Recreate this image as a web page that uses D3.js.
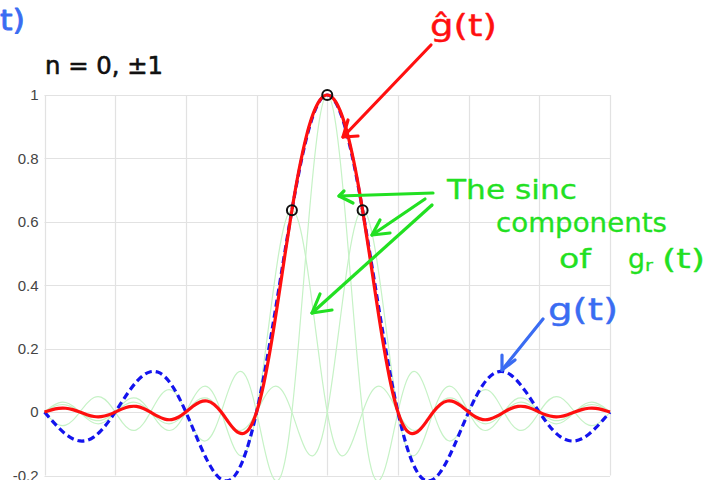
<!DOCTYPE html>
<html>
<head>
<meta charset="utf-8">
<script src="https://cdn.jsdelivr.net/npm/d3@7"></script>
<style>
  html, body { margin: 0; padding: 0; background: #ffffff; }
  svg { display: block; }
</style>
</head>
<body>
<svg id="chart" width="717" height="480"></svg>
<script>
// ---- data ----
const tValues = [-4,-3.9,-3.8,-3.7,-3.6,-3.5,-3.4,-3.3,-3.2,-3.1,-3,-2.9,-2.8,-2.7,-2.6,-2.5,-2.4,-2.3,-2.2,-2.1,-2,-1.9,-1.8,-1.7,-1.6,-1.5,-1.4,-1.3,-1.2,-1.1,-1,-0.9,-0.8,-0.7,-0.6,-0.5,-0.4,-0.3,-0.2,-0.1,0,0.1,0.2,0.3,0.4,0.5,0.6,0.7,0.8,0.9,1,1.1,1.2,1.3,1.4,1.5,1.6,1.7,1.8,1.9,2,2.1,2.2,2.3,2.4,2.5,2.6,2.7,2.8,2.9,3,3.1,3.2,3.3,3.4,3.5,3.6,3.7,3.8,3.9,4];

// g(t): original signal (blue dashed)
const gValues = [0,-0.02522,-0.04924,-0.06960,-0.08409,-0.09095,-0.08904,-0.07804,-0.05847,-0.03173,0,0.03392,0.06682,0.09538,0.11643,0.12732,0.12614,0.11196,0.08504,0.04684,0,-0.05177,-0.10394,-0.15148,-0.18921,-0.21221,-0.21624,-0.19809,-0.15592,-0.08942,0,0.10929,0.23387,0.36788,0.50455,0.63662,0.75683,0.85839,0.93549,0.98363,
  1,0.98363,0.93549,0.85839,0.75683,0.63662,0.50455,0.36788,0.23387,0.10929,0,-0.08942,-0.15592,-0.19809,-0.21624,-0.21221,-0.18921,-0.15148,-0.10394,-0.05177,0,0.04684,0.08504,0.11196,0.12614,0.12732,0.11643,0.09538,0.06682,0.03392,0,-0.03173,-0.05847,-0.07804,-0.08904,-0.09095,-0.08409,-0.06960,-0.04924,-0.02522,0];

// g-hat(t): reconstruction from n = 0, ±1 (red)
const gHatValues = [0,0.00705,0.01178,0.01214,0.00775,0,-0.00830,-0.01391,-0.01443,-0.00928,0,0.01007,0.01704,0.01785,0.01159,0,-0.01291,-0.02214,-0.02357,-0.01558,0,0.01812,0.03193,0.03506,0.02403,0,-0.03070,-0.05755,-0.06820,-0.05144,0,0.08749,0.20612,0.34587,0.49377,0.63662,0.76325,0.86591,0.94038,0.98512,
  1,0.98512,0.94038,0.86591,0.76325,0.63662,0.49377,0.34587,0.20612,0.08749,0,-0.05144,-0.06820,-0.05755,-0.03070,0,0.02403,0.03506,0.03193,0.01812,0,-0.01558,-0.02357,-0.02214,-0.01291,0,0.01159,0.01785,0.01704,0.01007,0,-0.00928,-0.01443,-0.01391,-0.00830,0,0.00775,0.01214,0.01178,0.00705,0];

// sinc components (green)
const compN0 = [0,-0.02399,-0.03983,-0.04091,-0.02599,0,0.02751,0.04587,0.04730,0.03018,0,-0.03226,-0.05406,-0.05606,-0.03598,0,0.03898,0.06581,0.06880,0.04455,0,-0.04924,-0.08409,-0.08904,-0.05847,0,0.06682,0.11643,0.12614,0.08504,0,-0.10394,-0.18921,-0.21624,-0.15592,0,0.23387,0.50455,0.75683,0.93549,
  1,0.93549,0.75683,0.50455,0.23387,0,-0.15592,-0.21624,-0.18921,-0.10394,0,0.08504,0.12614,0.11643,0.06682,0,-0.05847,-0.08904,-0.08409,-0.04924,0,0.04455,0.06880,0.06581,0.03898,0,-0.03598,-0.05606,-0.05406,-0.03226,0,0.03018,0.04730,0.04587,0.02751,0,-0.02599,-0.04091,-0.03983,-0.02399,0];

const compP1 = [0,0.01353,0.02241,0.02294,0.01453,0,-0.01527,-0.02536,-0.02604,-0.01655,0,0.01751,0.02920,0.03011,0.01921,0,-0.02054,-0.03442,-0.03569,-0.02291,0,0.02482,0.04190,0.04380,0.02836,0,-0.03135,-0.05353,-0.05668,-0.03722,0,0.04254,0.07412,0.08030,0.05414,0,-0.06617,-0.12045,-0.13766,-0.09926,0,0.14889,0.32121,0.48181,0.59555,0.63662,
  0.59555,0.48181,0.32121,0.14889,0,-0.09926,-0.13766,-0.12045,-0.06617,0,0.05414,0.08030,0.07412,0.04254,0,-0.03722,-0.05668,-0.05353,-0.03135,0,0.02836,0.04380,0.04190,0.02482,0,-0.02291,-0.03569,-0.03442,-0.02054,0,0.01921,0.03011,0.02920,0.01751,0];

const compM1 = [0,0.01751,0.02920,0.03011,0.01921,0,-0.02054,-0.03442,-0.03569,-0.02291,0,0.02482,0.04190,0.04380,0.02836,0,-0.03135,-0.05353,-0.05668,-0.03722,0,0.04254,0.07412,0.08030,0.05414,0,-0.06617,-0.12045,-0.13766,-0.09926,0,0.14889,0.32121,0.48181,0.59555,0.63662,
  0.59555,0.48181,0.32121,0.14889,0,-0.09926,-0.13766,-0.12045,-0.06617,0,0.05414,0.08030,0.07412,0.04254,0,-0.03722,-0.05668,-0.05353,-0.03135,0,0.02836,0.04380,0.04190,0.02482,0,-0.02291,-0.03569,-0.03442,-0.02054,0,0.01921,0.03011,0.02920,0.01751,0,-0.01655,-0.02604,-0.02536,-0.01527,0,0.01453,0.02294,0.02241,0.01353,0];

// samples n = 0, ±1
const sampleT = [-0.5, 0, 0.5];
const sampleG = [0.63662, 1, 0.63662];

const xTicks = [-4,-3,-2,-1,0,1,2,3,4];
const yTicks = [-0.2,0,0.2,0.4,0.6,0.8,1];
const yTickLabels = ["-0.2","0","0.2","0.4","0.6","0.8","1"];

// ---- chart ----
const svg = d3.select("#chart");
const x = d3.scaleLinear().domain([-4, 4]).range([44.5, 610]);
const y = d3.scaleLinear().domain([-0.2, 1]).range([475.5, 95]);

// grid
const grid = svg.append("g");
grid.selectAll("line.v").data(xTicks).join("line")
  .attr("x1", d => Math.round(x(d)) + 0.5).attr("x2", d => Math.round(x(d)) + 0.5)
  .attr("y1", y(1)).attr("y2", y(-0.2))
  .attr("stroke", "#e2e2e2").attr("stroke-width", 1.2);
grid.selectAll("line.h").data(yTicks).join("line")
  .attr("x1", x(-4)).attr("x2", x(4))
  .attr("y1", d => Math.round(y(d)) + 0.5).attr("y2", d => Math.round(y(d)) + 0.5)
  .attr("stroke", "#e2e2e2").attr("stroke-width", 1.2);

// y axis labels via d3 axis
const yAxis = d3.axisLeft(y).tickValues(yTicks).tickSize(0).tickPadding(6)
  .tickFormat((d, i) => yTickLabels[i]);
const yg = svg.append("g").attr("transform", `translate(${x(-4)},0)`).call(yAxis);
yg.select(".domain").remove();
yg.selectAll("text").attr("font-family", "'Liberation Sans', Arial, sans-serif")
  .attr("font-size", 15).attr("fill", "#444");

svg.append("defs").append("clipPath").attr("id", "plotclip")
  .append("rect").attr("x", x(-4) - 2).attr("y", y(1) - 20).attr("width", x(4) - x(-4) + 4).attr("height", y(-0.2) - y(1) + 30);

const line = d3.line().x(d => x(d[0])).y(d => y(d[1])).curve(d3.curveNatural);
const plot = svg.append("g").attr("clip-path", "url(#plotclip)");

[compN0, compP1, compM1].forEach(vals => {
  plot.append("path").datum(tValues.map((t, i) => [t, vals[i]]))
    .attr("d", line).attr("fill", "none").attr("stroke", "#c6f2c6").attr("stroke-width", 1.2);
});

plot.append("path").datum(tValues.map((t, i) => [t, gValues[i]]))
  .attr("d", line).attr("fill", "none").attr("stroke", "#1414ee")
  .attr("stroke-width", 3.2).attr("stroke-dasharray", "7,4");

plot.append("path").datum(tValues.map((t, i) => [t, gHatValues[i]]))
  .attr("d", line).attr("fill", "none").attr("stroke", "#ff0f0f")
  .attr("stroke-width", 3.2).attr("stroke-linejoin", "round");

svg.append("g").selectAll("circle").data(sampleT.map((t, i) => [t, sampleG[i]])).join("circle")
  .attr("cx", d => x(d[0])).attr("cy", d => y(d[1])).attr("r", 5)
  .attr("fill", "none").attr("stroke", "#111").attr("stroke-width", 2);

// ---- handwritten annotations ----
const ann = svg.append("g").attr("font-family", "'DejaVu Sans', sans-serif")
  .attr("stroke-linejoin", "round").attr("stroke-linecap", "round");

function hand(txt, xx, yy, size, color, len, sw) {
  const t = ann.append("text").attr("x", xx).attr("y", yy).attr("font-size", size)
    .attr("fill", color).attr("stroke", color).attr("stroke-width", sw || 0.4).text(txt);
  if (len) t.attr("textLength", len).attr("lengthAdjust", "spacingAndGlyphs");
  return t;
}

const BLUE = "#3a6cf2", RED = "#ff1010", GREEN = "#22e022", BLACK = "#111";

hand("t)", 0, 30, 28, BLUE, 25, 0.8);
hand("n = 0, ±1", 45, 74, 24, BLACK, 118, 0.6);
hand("ĝ(t)", 430, 36, 30, RED, 67, 0.4);
hand("The sinc", 447, 199, 26, GREEN, 130, 0.3);
hand("components", 496, 232, 27, GREEN, 171, 0.3);
hand("of", 559, 268, 27, GREEN, 32, 0.3);
hand("g", 628, 268, 27, GREEN, 17, 0.3);
hand("r", 645, 271, 16, GREEN, 8, 0.3);
hand("(t)", 662, 268, 27, GREEN, 43, 0.3);
hand("g(t)", 548, 320, 30, BLUE, 70, 0.4);

function arrow(pts, color) {
  ann.append("path").attr("d", d3.line()(pts)).attr("fill", "none")
    .attr("stroke", color).attr("stroke-width", 3.2);
}
// red arrow
arrow([[431,45],[343,137]], RED);
arrow([[348,120],[343,137],[358,136]], RED);
// green arrows
arrow([[433,193],[339,196]], GREEN);
arrow([[344,191],[339,196],[353,203]], GREEN);
arrow([[425,199],[372,235]], GREEN);
arrow([[380,220],[372,235],[390,233]], GREEN);
arrow([[432,205],[312,313]], GREEN);
arrow([[320,294],[312,313],[332,310]], GREEN);
// blue arrow
arrow([[543,319],[502,370]], BLUE);
arrow([[502,355],[502,370],[515,360]], BLUE);
</script>
</body>
</html>
